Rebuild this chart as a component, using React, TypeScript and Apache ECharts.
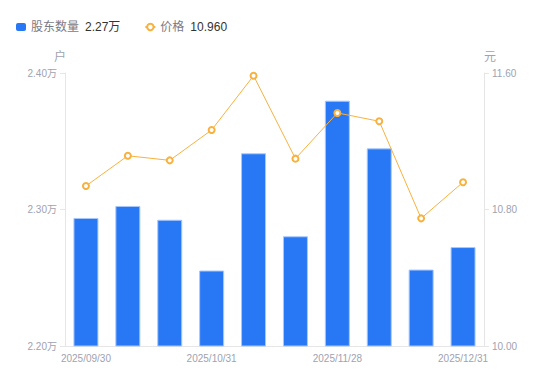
import React, { useEffect, useRef } from "react";
import * as echarts from "echarts";

const categories = [
  "2025/09/30", "2025/10/10", "2025/10/20", "2025/10/31", "2025/11/10",
  "2025/11/20", "2025/11/28", "2025/12/10", "2025/12/19", "2025/12/31",
];
// shareholders, in 万户
const holders = [2.2938, 2.3026, 2.2925, 2.2553, 2.3412, 2.2804, 2.3797, 2.3448, 2.256, 2.2725];
// price, 元
const prices = [10.938, 11.115, 11.088, 11.266, 11.584, 11.098, 11.366, 11.317, 10.748, 10.96];
const leftTicks = { min: 2.2, max: 2.4, interval: 0.1 };
const rightTicks = { min: 10.0, max: 11.6, interval: 0.8 };

export default function App() {
  const ref = useRef<HTMLDivElement>(null);
  useEffect(() => {
    if (!ref.current) return;
    const chart = echarts.init(ref.current, undefined, { renderer: "svg" });
    const labelColor = "#a0a2b0";
    const lineColor = "#e6e6e6";
    const font = "'Liberation Sans', Arial, 'Noto Sans CJK SC', sans-serif";
    const lastHolder = holders[holders.length - 1];
    const lastPrice = prices[prices.length - 1];
    chart.setOption({
      animation: false,
      textStyle: { fontFamily: font },
      legend: {
        left: 11,
        top: 16,
        itemGap: 24,
        itemWidth: 10,
        itemHeight: 8,
        data: [
          { name: "股东数量", icon: "roundRect", itemStyle: { borderWidth: 0 } },
          { name: "价格" },
        ],
        formatter: (name: string) =>
          name === "股东数量"
            ? `{a|${name}}{b|${lastHolder.toFixed(2)}万}`
            : `{a|${name}}{b|${lastPrice.toFixed(3)}}`,
        textStyle: {
          fontFamily: font,
          fontSize: 12,
          rich: {
            a: { color: "#7a7a86", fontSize: 12, padding: [0, 6, 0, 0], fontFamily: font },
            b: { color: "#333333", fontSize: 12, fontFamily: font },
          },
        },
      },
      grid: { left: 65, right: 66, top: 73, bottom: 35 },
      xAxis: {
        type: "category",
        data: categories,
        axisLine: { lineStyle: { color: lineColor } },
        axisTick: { show: false },
        axisLabel: { color: labelColor, fontSize: 10, interval: 2, margin: 7 },
      },
      yAxis: [
        {
          type: "value",
          name: "户",
          min: leftTicks.min,
          max: leftTicks.max,
          interval: leftTicks.interval,
          nameGap: 10,
          nameTextStyle: { color: labelColor, fontSize: 12, align: "right", padding: [0, -1, 0, 0] },
          axisLine: { show: true, lineStyle: { color: lineColor } },
          axisTick: { show: true, length: 5, lineStyle: { color: lineColor } },
          splitLine: { show: false },
          axisLabel: { color: labelColor, fontSize: 10, margin: 8, formatter: (v: number) => v.toFixed(2) + "万" },
        },
        {
          type: "value",
          name: "元",
          min: rightTicks.min,
          max: rightTicks.max,
          interval: rightTicks.interval,
          nameGap: 10,
          nameTextStyle: { color: labelColor, fontSize: 12, align: "left" },
          axisLine: { show: true, lineStyle: { color: lineColor } },
          axisTick: { show: true, length: 5, lineStyle: { color: lineColor } },
          splitLine: { show: false },
          axisLabel: { color: labelColor, fontSize: 10, margin: 8, formatter: (v: number) => v.toFixed(2) },
        },
      ],
      series: [
        {
          name: "股东数量",
          type: "bar",
          yAxisIndex: 0,
          data: holders,
          barWidth: 25,
          itemStyle: { color: "#2878f5", borderColor: "#a8c8fb", borderWidth: 1 },
        },
        {
          name: "价格",
          type: "line",
          yAxisIndex: 1,
          data: prices,
          symbol: "emptyCircle",
          symbolSize: 6,
          lineStyle: { color: "#f8b13e", width: 1 },
          itemStyle: { color: "#f8b13e", borderWidth: 2 },
        },
      ],
    });
    return () => chart.dispose();
  }, []);
  return (
    <div
      ref={ref}
      style={{ position: "absolute", left: 0, top: 0, width: 550, height: 381 }}
    />
  );
}
